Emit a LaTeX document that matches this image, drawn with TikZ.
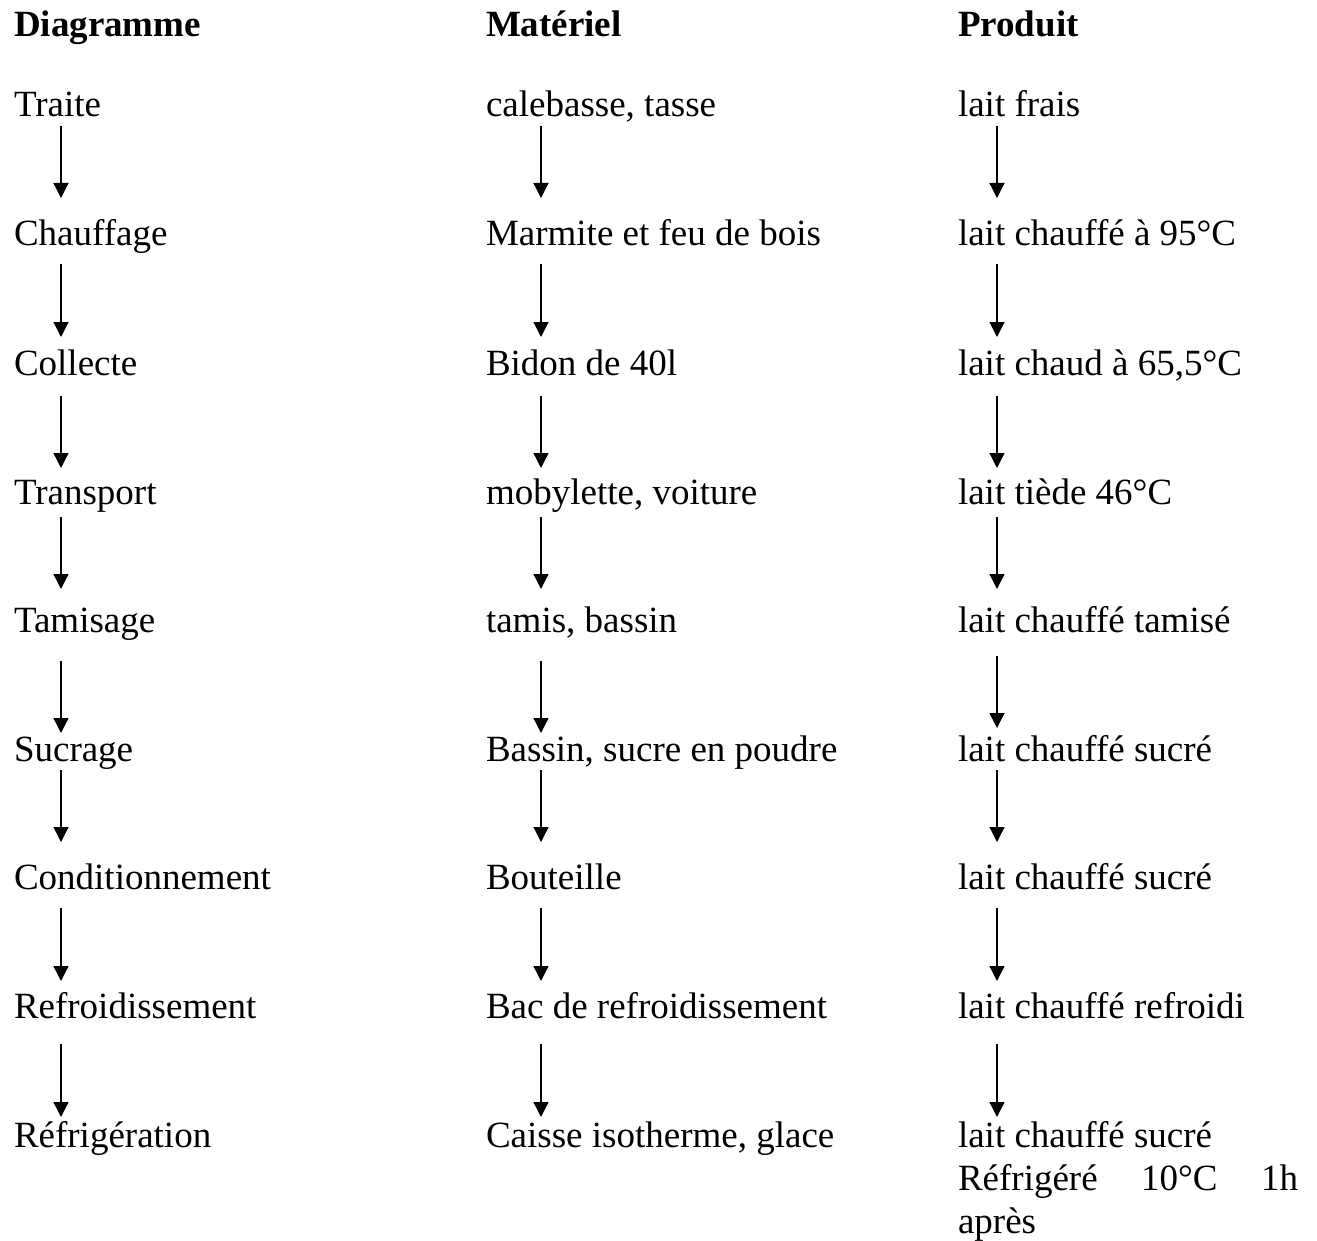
\documentclass[tikz,border=0pt]{standalone}
\usepackage{fontspec}
\setmainfont{Liberation Serif}
\usetikzlibrary{arrows.meta}
\tikzset{
  txt/.style={anchor=base west, inner sep=0pt, outer sep=0pt, font=\fontsize{37}{44}\selectfont},
  hdr/.style={txt, font=\fontsize{37}{44}\selectfont\bfseries},
  arr/.style={line width=1.3pt, -{Triangle[width=15pt,length=15pt]}}
}
\begin{document}
\begin{tikzpicture}[x=1pt,y=-1pt]
\useasboundingbox (0,0) rectangle (1317,1241);
% headers
\node[hdr] (h1) at (14,37) {Diagramme};
\node[hdr] (h2) at (486,37) {Matériel};
\node[hdr] (h3) at (958,37) {Produit};
% column 1
\node[txt] (d1) at (14,117) {Traite};
\node[txt] (d2) at (14,246) {Chauffage};
\node[txt] (d3) at (14,375) {Collecte};
\node[txt] (d4) at (14,504) {Transport};
\node[txt] (d5) at (14,632) {Tamisage};
\node[txt] (d6) at (14,761) {Sucrage};
\node[txt] (d7) at (14,889) {Conditionnement};
\node[txt] (d8) at (14,1018) {Refroidissement};
\node[txt] (d9) at (14,1147) {Réfrigération};
% column 2
\node[txt] (m1) at (486,117) {calebasse, tasse};
\node[txt] (m2) at (486,246) {Marmite et feu de bois};
\node[txt] (m3) at (486,375) {Bidon de 40l};
\node[txt] (m4) at (486,504) {mobylette, voiture};
\node[txt] (m5) at (486,632) {tamis, bassin};
\node[txt] (m6) at (486,761) {Bassin, sucre en poudre};
\node[txt] (m7) at (486,889) {Bouteille};
\node[txt] (m8) at (486,1018) {Bac de refroidissement};
\node[txt] (m9) at (486,1147) {Caisse isotherme, glace};
% column 3
\node[txt] (p1) at (958,117) {lait frais};
\node[txt] (p2) at (958,246) {lait chauffé à 95°C};
\node[txt] (p3) at (958,375) {lait chaud à 65,5°C};
\node[txt] (p4) at (958,504) {lait tiède 46°C};
\node[txt] (p5) at (958,632) {lait chauffé tamisé};
\node[txt] (p6) at (958,761) {lait chauffé sucré};
\node[txt] (p7) at (958,889) {lait chauffé sucré};
\node[txt] (p8) at (958,1018) {lait chauffé refroidi};
\node[txt] (p9) at (958,1147) {\vtop{\baselineskip=43pt\hbox{lait chauffé sucré}\hbox{\makebox[340pt][s]{Réfrigéré 10°C 1h}}\hbox{après}}};
% arrow end points
\foreach \i/\ys/\ye in {1/126/198, 2/264/337, 3/396/468, 4/517/589, 5/661/733, 6/770/842, 7/908/981, 8/1044/1117}{
  \coordinate (ds\i) at (61,\ys); \coordinate (de\i) at (61,\ye);
  \coordinate (ms\i) at (541,\ys); \coordinate (me\i) at (541,\ye);
}
\foreach \i/\ys/\ye in {1/126/198, 2/264/337, 3/396/468, 4/517/589, 5/656/728, 6/770/842, 7/908/981, 8/1044/1117}{
  \coordinate (ps\i) at (997,\ys); \coordinate (pe\i) at (997,\ye);
}
\foreach \i in {1,...,8}{
  \draw[arr] (ds\i) -- (de\i);
  \draw[arr] (ms\i) -- (me\i);
  \draw[arr] (ps\i) -- (pe\i);
}
\end{tikzpicture}
\end{document}
